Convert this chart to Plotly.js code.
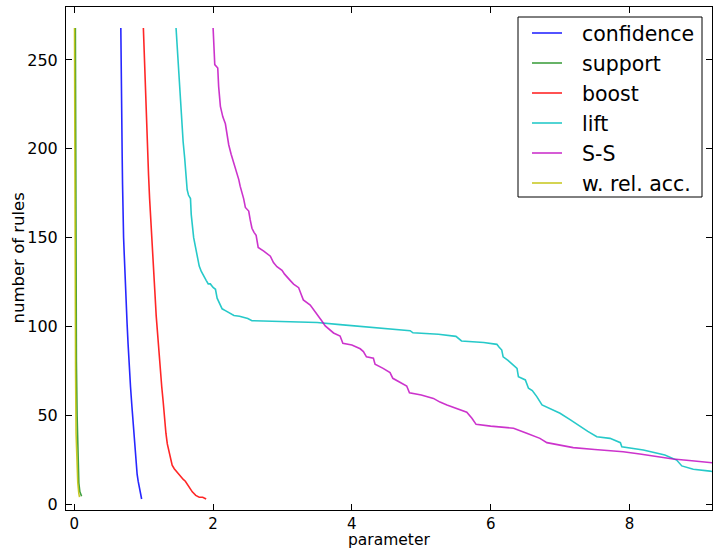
<!DOCTYPE html>
<html>
<head>
<meta charset="utf-8">
<script src="https://cdn.plot.ly/plotly-3.0.1.min.js"></script>
<style>
  html, body { margin: 0; padding: 0; background: #ffffff; }
  #chart { width: 713px; height: 548px; }
</style>
</head>
<body>
<div id="chart"></div>
<script>
// Series names (legend order)
const seriesNames = ["confidence", "support", "boost", "lift", "S-S", "w. rel. acc."];

// confidence
const confidenceX = [0.67, 0.672, 0.675, 0.68, 0.685, 0.69, 0.695, 0.70, 0.71, 0.72, 0.73, 0.745, 0.76, 0.775, 0.79, 0.81, 0.83, 0.845, 0.86, 0.875, 0.89, 0.905, 0.92, 0.94, 0.955, 0.97];
const confidenceY = [268, 255, 240, 225, 210, 195, 180, 165, 150, 140, 128, 115, 102, 90, 78, 66, 55, 47, 38, 31, 24, 17, 13, 9, 6, 3];

// support
const supportX = [0.015, 0.017, 0.02, 0.025, 0.03, 0.04, 0.05, 0.065, 0.08, 0.095, 0.105];
const supportY = [268, 220, 170, 120, 80, 50, 25, 12, 7, 5, 4.5];

// boost
const boostX = [0.995, 1.0, 1.01, 1.02, 1.03, 1.04, 1.055, 1.07, 1.085, 1.1, 1.12, 1.14, 1.16, 1.18, 1.2, 1.22, 1.24, 1.26, 1.28, 1.3, 1.32, 1.34, 1.36, 1.38, 1.41, 1.44, 1.48, 1.53, 1.57, 1.6, 1.63, 1.67, 1.7, 1.75, 1.8, 1.85, 1.9];
const boostY = [268, 262, 252, 240, 228, 215, 200, 185, 172, 160, 146, 133, 120, 106, 95, 86, 76, 66, 58, 47, 40, 34, 30, 26, 22, 20, 18, 16, 14, 13, 11, 9, 7, 5, 4, 4, 3];

// lift
const liftX = [1.466, 1.475, 1.49, 1.506, 1.52, 1.54, 1.568, 1.59, 1.61, 1.626, 1.645, 1.674, 1.685, 1.698, 1.72, 1.745, 1.77, 1.80, 1.83, 1.866, 1.9, 1.93, 1.96, 2.0, 2.034, 2.058, 2.09, 2.13, 2.177, 2.22, 2.3, 2.38, 2.44, 2.5, 2.56, 3.0, 3.5, 3.83, 4.2, 4.6, 4.84, 4.88, 5.247, 5.5, 5.535, 5.58, 5.9, 6.09, 6.12, 6.16, 6.18, 6.25, 6.38, 6.40, 6.5, 6.545, 6.6, 6.665, 6.74, 6.85, 7.0, 7.15, 7.29, 7.4, 7.53, 7.72, 7.87, 7.89, 8.2, 8.51, 8.68, 8.755, 8.92, 9.16, 9.3];
const liftY = [268, 262, 253, 243, 232, 218, 204, 195, 187, 177, 174, 172, 163, 157, 150, 145, 139.6, 134, 131, 128, 126, 124, 124, 122, 121, 116, 113, 110, 109, 108, 106.2, 105.8, 105.3, 104.5, 103.3, 102.9, 102.3, 101.1, 100, 98.7, 97.7, 96.5, 95.7, 94.5, 93.4, 91.9, 91, 90, 88.5, 86.8, 83, 81, 76.5, 71.8, 70, 65.3, 64, 60.6, 55.9, 54, 51.2, 47.5, 43.7, 41, 38, 37.1, 34.7, 32.4, 30.6, 27.7, 24.9, 21.6, 19.7, 18.7, 17.5];

// S-S
const ssX = [2.0, 2.01, 2.024, 2.067, 2.08, 2.105, 2.14, 2.177, 2.2, 2.225, 2.26, 2.297, 2.33, 2.37, 2.39, 2.417, 2.44, 2.465, 2.513, 2.535, 2.56, 2.59, 2.62, 2.65, 2.69, 2.73, 2.825, 2.87, 2.92, 2.993, 3.03, 3.065, 3.11, 3.16, 3.233, 3.27, 3.3, 3.4, 3.46, 3.52, 3.57, 3.616, 3.68, 3.736, 3.83, 3.87, 4.0, 4.12, 4.166, 4.21, 4.31, 4.334, 4.45, 4.55, 4.59, 4.7, 4.79, 4.83, 5.0, 5.175, 5.27, 5.37, 5.51, 5.656, 5.73, 5.79, 6.0, 6.33, 6.52, 6.71, 6.81, 7.0, 7.19, 7.5, 7.91, 8.15, 8.39, 8.63, 8.9, 9.16, 9.3];
const ssY = [268, 258, 247.4, 245.5, 235, 223.9, 218, 214.1, 208, 202.3, 197, 192.5, 188, 182.7, 179, 175.8, 172, 167, 165, 160, 155.3, 153, 151.3, 144.5, 143.5, 142.5, 139.6, 136, 133.7, 131.7, 129.5, 127.8, 126, 123.9, 121.9, 118, 115, 112.1, 109, 106.2, 103, 100.4, 98, 96.4, 94.7, 90.6, 89.6, 87.5, 85.9, 83, 82.2, 78.8, 76.5, 74.1, 70.9, 68.5, 66.6, 62.8, 61.5, 59.6, 57.5, 55.9, 54, 51.8, 48.4, 45, 44, 42.8, 40, 37.1, 34.7, 33.5, 31.9, 30.8, 29.6, 28.3, 26.8, 25.5, 24.5, 23.4, 23];

// w. rel. acc.
const wraX = [0.003, 0.005, 0.008, 0.012, 0.018, 0.025, 0.035, 0.05, 0.065, 0.075];
const wraY = [268, 220, 170, 120, 75, 40, 25, 12, 6, 4];

// Axis ticks and titles
const xTicks = [0, 2, 4, 6, 8];
const yTicks = [0, 50, 100, 150, 200, 250];
const xTitle = "parameter";
const yTitle = "number of rules";

const colors = ["rgba(0,0,255,0.85)", "rgba(0,128,0,0.75)", "rgba(255,0,0,0.85)",
                "rgba(0,191,191,0.85)", "rgba(191,0,191,0.8)", "rgba(191,191,0,0.85)"];

const xs = [confidenceX, supportX, boostX, liftX, ssX, wraX];
const ys = [confidenceY, supportY, boostY, liftY, ssY, wraY];

const traces = seriesNames.map((name, i) => ({
  type: "scatter",
  mode: "lines",
  name: name,
  x: xs[i],
  y: ys[i],
  line: { color: colors[i], width: 1.6 },
  hoverinfo: "skip"
}));

const font = { family: "DejaVu Sans, Verdana, sans-serif", color: "#000000" };

// Plot-area geometry (pixels) used to place the hand-drawn legend and titles
const W = 713, H = 548;
const M = { l: 66, r: 1, t: 7, b: 38 };
const pw = W - M.l - M.r, ph = H - M.t - M.b;
const px = v => (v - M.l) / pw;
const py = v => (H - M.b - v) / ph;

// Legend (matplotlib-style box)
const legBox = { x0: 518, x1: 702, y0: 17, y1: 197 };
const legRow0 = 33, legRowStep = 30;
const shapes = [{
  type: "rect", xref: "paper", yref: "paper",
  x0: px(legBox.x0), x1: px(legBox.x1), y0: py(legBox.y1), y1: py(legBox.y0),
  line: { color: "#000000", width: 1 }, fillcolor: "#ffffff", layer: "above"
}];
const annotations = [];
seriesNames.forEach((name, i) => {
  const yy = legRow0 + i * legRowStep;
  shapes.push({
    type: "line", xref: "paper", yref: "paper",
    x0: px(532), x1: px(562), y0: py(yy), y1: py(yy),
    line: { color: colors[i], width: 1.6 }, layer: "above"
  });
  annotations.push({
    xref: "paper", yref: "paper", x: px(580), y: py(yy + 1),
    xanchor: "left", yanchor: "middle", showarrow: false,
    text: name, font: Object.assign({}, font, { size: 20.5 })
  });
});
// Axis titles
annotations.push({
  xref: "paper", yref: "paper", x: 0.5, y: py(540),
  xanchor: "center", yanchor: "middle", showarrow: false, borderpad: 0,
  text: xTitle, font: Object.assign({}, font, { size: 15.5 })
});
annotations.push({
  xref: "paper", yref: "paper", x: px(18), y: 0.5,
  xanchor: "center", yanchor: "middle", showarrow: false, textangle: -90,
  text: yTitle, font: Object.assign({}, font, { size: 16.5 })
});

const layout = {
  width: W,
  height: H,
  margin: { l: M.l, r: M.r, t: M.t, b: M.b, pad: 0 },
  paper_bgcolor: "#ffffff",
  plot_bgcolor: "#ffffff",
  font: Object.assign({}, font, { size: 16 }),
  showlegend: false,
  shapes: shapes,
  annotations: annotations,
  xaxis: {
    range: [-0.12, 9.19],
    tickvals: xTicks,
    ticktext: xTicks.map(String),
    ticks: "inside",
    ticklen: 6,
    tickwidth: 1,
    tickcolor: "#000000",
    showline: true,
    linecolor: "#000000",
    linewidth: 1,
    mirror: "ticks",
    showgrid: false,
    zeroline: false,
    tickfont: Object.assign({}, font, { size: 15 }),
    ticklabelstandoff: 0,
    automargin: false
  },
  yaxis: {
    range: [-3.2, 279.8],
    tickvals: yTicks,
    ticktext: yTicks.map(String),
    ticks: "inside",
    ticklen: 6,
    tickwidth: 1,
    tickcolor: "#000000",
    showline: true,
    linecolor: "#000000",
    linewidth: 1,
    mirror: "ticks",
    showgrid: false,
    zeroline: false,
    tickfont: Object.assign({}, font, { size: 16 }),
    ticklabelstandoff: 4,
    automargin: false
  }
};

Plotly.newPlot("chart", traces, layout, { displayModeBar: false, staticPlot: true });
</script>
</body>
</html>
